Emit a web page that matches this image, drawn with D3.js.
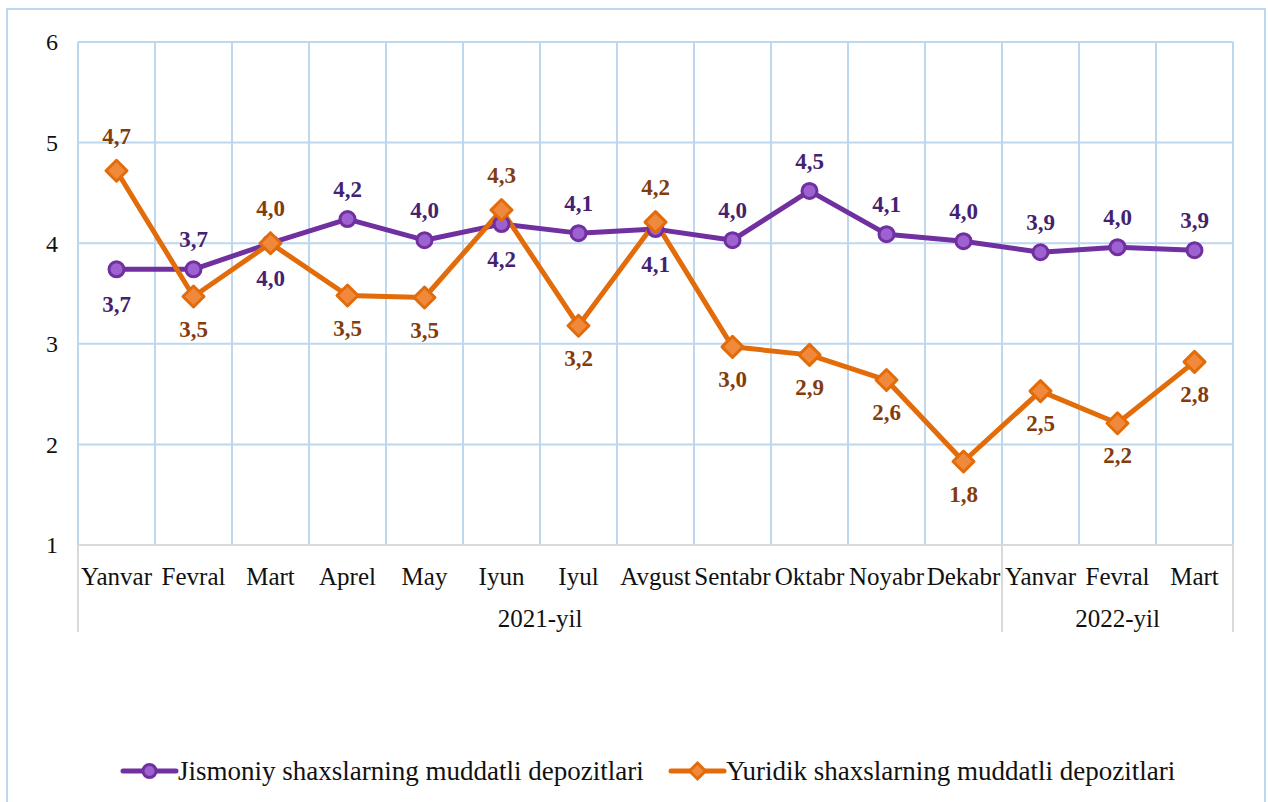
<!DOCTYPE html>
<html><head><meta charset="utf-8">
<script src="https://cdn.jsdelivr.net/npm/d3@7"></script>
<style>body{margin:0;background:#fff}svg{display:block}text{font-family:"Liberation Serif","Times New Roman",serif}</style>
</head><body><svg id="c" width="1268" height="802"></svg>
<script>
const months = ["Yanvar","Fevral","Mart","Aprel","May","Iyun","Iyul","Avgust","Sentabr","Oktabr","Noyabr","Dekabr","Yanvar","Fevral","Mart"];
const years = [{label:"2021-yil", from:0, to:11},{label:"2022-yil", from:12, to:14}];
const jismoniy = [3.74,3.74,4.0,4.24,4.03,4.19,4.10,4.14,4.03,4.52,4.09,4.02,3.91,3.96,3.93];
const yuridik  = [4.72,3.47,4.0,3.48,3.46,4.33,3.18,4.21,2.97,2.89,2.64,1.83,2.53,2.21,2.82];
// label position: 1 = above, -1 = below
const jismoniyPos = [-1,1,-1,1,1,-1,1,-1,1,1,1,1,1,1,1];
const yuridikPos  = [1,-1,1,-1,-1,1,-1,1,-1,-1,-1,-1,-1,-1,-1];
const yTicks = [1,2,3,4,5,6];
const seriesNames = ["Jismoniy shaxslarning muddatli depozitlari","Yuridik shaxslarning muddatli depozitlari"];

const svg = d3.select("#c");
const L=78, R=1233, T=42, B=545;
const grid = "#BDD7EE";

svg.append("rect").attr("x",7).attr("y",9).attr("width",1258).attr("height",800)
  .attr("fill","none").attr("stroke",grid).attr("stroke-width",2);

const x = d3.scaleBand().domain(d3.range(months.length)).range([L,R]).padding(0);
const y = d3.scaleLinear().domain([1,6]).range([B,T]);
const cx = i => x(i)+x.bandwidth()/2;

// gridlines
svg.append("g").selectAll("line").data(yTicks).join("line")
  .attr("x1",L).attr("x2",R).attr("y1",d=>y(d)).attr("y2",d=>y(d))
  .attr("stroke",grid).attr("stroke-width",2);
svg.append("g").selectAll("line").data(d3.range(months.length+1)).join("line")
  .attr("x1",i=>L+i*x.bandwidth()).attr("x2",i=>L+i*x.bandwidth()).attr("y1",T).attr("y2",B)
  .attr("stroke",grid).attr("stroke-width",2);

// y axis labels
const yAxis = d3.axisLeft(y).tickValues(yTicks).tickSize(0).tickPadding(0).tickFormat(d3.format("d"));
const ya = svg.append("g").attr("transform",`translate(${L-20},0)`).call(yAxis);
ya.select(".domain").remove();
ya.attr("font-family",null);
ya.selectAll("text").attr("font-size",24).attr("fill","#111").attr("dy","0.33em");

// category axis
svg.append("line").attr("x1",L).attr("x2",R).attr("y1",B).attr("y2",B).attr("stroke","#D9D9D9").attr("stroke-width",2);
const xa = svg.append("g").attr("transform",`translate(0,${B})`)
  .call(d3.axisBottom(x).tickSize(0).tickPadding(0).tickFormat(i=>months[i]));
xa.select(".domain").remove();
xa.attr("font-family",null);
xa.selectAll("text").attr("font-size",25).attr("fill","#111").attr("y",40).attr("dy",null);
[0,12,15].forEach(i=>{
  svg.append("line").attr("x1",L+i*x.bandwidth()).attr("x2",L+i*x.bandwidth())
    .attr("y1",B).attr("y2",632).attr("stroke","#D9D9D9").attr("stroke-width",2);
});
svg.append("g").selectAll("text").data(years).join("text")
  .attr("x",d=>(x(d.from)+x(d.to)+x.bandwidth())/2).attr("y",627)
  .attr("text-anchor","middle").attr("font-size",25).attr("fill","#111")
  .text(d=>d.label);

const fmt = v => d3.format(".1f")(v).replace(".",",");
const line = d3.line().x((d,i)=>cx(i)).y(d=>y(d));

const series = [
  {vals:jismoniy,pos:jismoniyPos,stroke:"#7030A0",fill:"#9E61D0",label:"#45226F",shape:"circle",up:-22,down:43},
  {vals:yuridik,pos:yuridikPos,stroke:"#E36C0A",fill:"#F0893B",label:"#843C0C",shape:"diamond",up:-27,down:40}
];

function marker(g, shape, s){
  if(shape==="circle"){
    g.append("circle").attr("r",7.5).attr("fill",s.fill).attr("stroke",s.stroke).attr("stroke-width",3);
  } else {
    g.append("path").attr("d","M0,-10.5L10.5,0L0,10.5L-10.5,0Z").attr("fill",s.fill).attr("stroke",s.stroke).attr("stroke-width",3).attr("stroke-linejoin","round");
  }
}

series.forEach(s=>{
  svg.append("path").datum(s.vals).attr("d",line).attr("fill","none")
    .attr("stroke",s.stroke).attr("stroke-width",5).attr("stroke-linejoin","round").attr("stroke-linecap","round");
});
series.forEach(s=>{
  s.vals.forEach((v,i)=>{
    const g = svg.append("g").attr("transform",`translate(${cx(i)},${y(v)})`);
    marker(g,s.shape,s);
  });
});
series.forEach(s=>{
  svg.append("g").selectAll("text").data(s.vals).join("text")
    .attr("x",(d,i)=>cx(i)).attr("y",(d,i)=>y(d)+(s.pos[i]>0?s.up:s.down))
    .attr("text-anchor","middle").attr("font-weight","bold")
    .attr("font-size",23).attr("fill",s.label).text(d=>fmt(d));
});

// legend
const leg = [{x:123,s:series[0],name:seriesNames[0]},{x:671,s:series[1],name:seriesNames[1]}];
leg.forEach(l=>{
  const ly=771;
  svg.append("line").attr("x1",l.x).attr("x2",l.x+53).attr("y1",ly).attr("y2",ly)
    .attr("stroke",l.s.stroke).attr("stroke-width",5).attr("stroke-linecap","round");
  const g = svg.append("g").attr("transform",`translate(${l.x+26.5},${ly})`);
  if(l.s.shape==="circle"){
    g.append("circle").attr("r",6.5).attr("fill",l.s.fill).attr("stroke",l.s.stroke).attr("stroke-width",3);
  } else {
    g.append("path").attr("d","M0,-8L8,0L0,8L-8,0Z").attr("fill",l.s.fill).attr("stroke",l.s.stroke).attr("stroke-width",3);
  }
  svg.append("text").attr("x",l.x+55).attr("y",ly+9).attr("font-size",27)
    .attr("fill","#111").text(l.name);
});
</script></body></html>
